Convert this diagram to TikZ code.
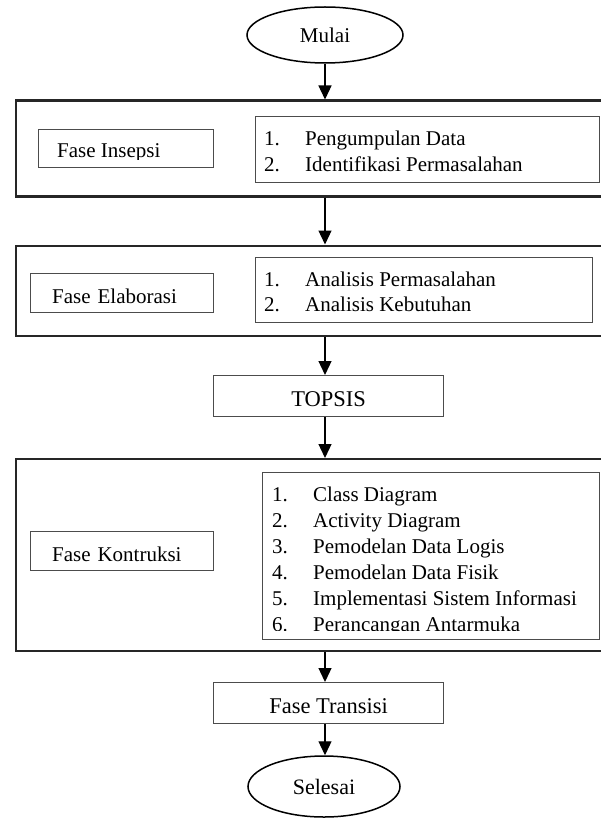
\documentclass[tikz,border=0pt]{standalone}
\usepackage{fontspec}
\setmainfont{Liberation Serif}
\usetikzlibrary{arrows.meta,shapes.geometric}
\tikzset{
  outerbox/.style={draw=black!85, line width=2.2pt, rectangle, inner sep=0pt},
  innerbox/.style={draw=black!70, line width=1.2pt, rectangle, inner sep=0pt},
  phasebox/.style={innerbox, minimum height=39pt, text width=140pt, align=left,
    text height=20pt, text depth=0pt, font=\fontsize{21}{26}\selectfont},
  midbox/.style={innerbox, minimum width=230pt, minimum height=41pt,
    text height=21pt, text depth=0pt, font=\fontsize{22.5}{27}\selectfont},
  term/.style={draw, ellipse, line width=1.5pt, inner sep=0pt, text depth=0pt},
  flow/.style={-{Triangle[length=14pt,width=13pt]}, line width=1.3pt},
  item/.style={anchor=base west, inner sep=0pt, font=\fontsize{21}{26}\selectfont},
}
\begin{document}
\begin{tikzpicture}[x=1pt,y=-1pt]
\useasboundingbox (0,0) rectangle (601,818);
\fill[white] (0,0) rectangle (601,818);
\coordinate (ax) at (325,0);

% terminals
\node[term, minimum width=156pt, minimum height=56pt, text height=16pt,
  font=\fontsize{21}{26}\selectfont] (mulai) at (325,35) {Mulai};
\node[term, minimum width=152pt, minimum height=61pt, text height=15pt,
  font=\fontsize{22}{26}\selectfont] (selesai) at (324,786.5) {Selesai};

% outer phase boxes
\node[outerbox, minimum width=592pt, minimum height=96pt, anchor=north west] (b1) at (15,99.5) {};
\node[outerbox, minimum width=592pt, minimum height=90pt, anchor=north west] (b2) at (15,244.5) {};
\node[outerbox, minimum width=592pt, minimum height=192pt, anchor=north west] (b3) at (15,458) {};

% phase name boxes
\node[innerbox, minimum width=175pt, minimum height=38pt, anchor=north west] (ins) at (38,129) {};
\begin{scope}
\clip (38,129) rectangle (213,159.5);
\node[item] (insT) at (57,158) {Fase Insepsi};
\end{scope}
\node[phasebox, minimum width=183pt, inner xsep=18pt, anchor=north west] (ela) at (30,273) {Fase Elaborasi};
\node[phasebox, minimum width=183pt, inner xsep=18pt, anchor=north west] (kon) at (30,531) {Fase Kontruksi};

% activity list boxes
\node[innerbox, minimum width=344pt, minimum height=66pt, anchor=north west] (r1) at (255,116) {};
\node[innerbox, minimum width=337pt, minimum height=65pt, anchor=north west] (r2) at (255,257) {};
\node[innerbox, minimum width=337pt, minimum height=167pt, anchor=north west] (r3) at (262,471.5) {};

\foreach \t [count=\i] in {Pengumpulan Data, Identifikasi Permasalahan} {
  \node[item] (r1n\i) at (264,{146+26*(\i-1)}) {\i.};
  \node[item] (r1t\i) at (305,{146+26*(\i-1)}) {\t};
}
\foreach \t [count=\i] in {Analisis Permasalahan, Analisis Kebutuhan} {
  \node[item] (r2n\i) at (264,{286+25*(\i-1)}) {\i.};
  \node[item] (r2t\i) at (305,{286+25*(\i-1)}) {\t};
}
\begin{scope}
\clip (262,471) rectangle (599,630);
\foreach \t [count=\i] in {Class Diagram, Activity Diagram, Pemodelan Data Logis,
    Pemodelan Data Fisik, Implementasi Sistem Informasi, Perancangan Antarmuka} {
  \node[item] (r3n\i) at (272,{501+26*(\i-1)}) {\i.};
  \node[item] (r3t\i) at (313,{501+26*(\i-1)}) {\t};
}
\end{scope}

% middle boxes
\node[midbox, anchor=north west] (topsis) at (213,375) {TOPSIS};
\node[midbox, anchor=north west] (trans) at (213,682) {Fase Transisi};

% connectors
\draw[flow] (ax |- mulai.south) -- (ax |- b1.north);
\draw[flow] (ax |- b1.south) -- (ax |- b2.north);
\draw[flow] (ax |- b2.south) -- (ax |- topsis.north);
\draw[flow] (ax |- topsis.south) -- (ax |- b3.north);
\draw[flow] (ax |- b3.south) -- (ax |- trans.north);
\draw[flow] (ax |- trans.south) -- (ax |- selesai.north);
\end{tikzpicture}
\end{document}
